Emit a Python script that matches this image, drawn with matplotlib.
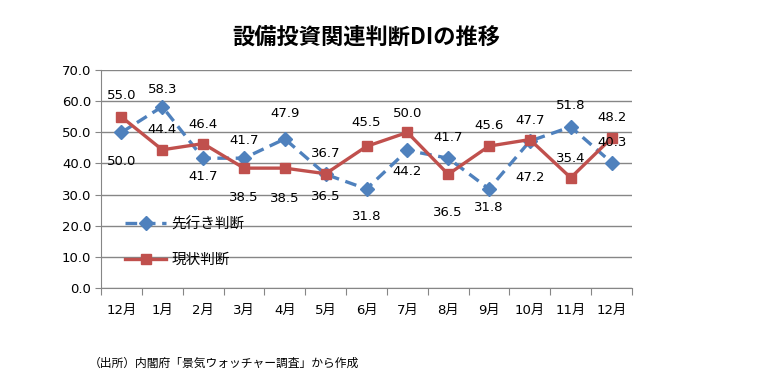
import matplotlib
matplotlib.use("Agg")
import matplotlib.pyplot as plt

plt.rcParams['font.family'] = ['DejaVu Sans', 'Noto Sans CJK JP']

months = ["12月", "1月", "2月", "3月", "4月", "5月", "6月", "7月", "8月", "9月", "10月", "11月", "12月"]
outlook = [50.0, 58.3, 41.7, 41.7, 47.9, 36.5, 31.8, 44.2, 41.7, 31.8, 47.2, 51.8, 40.3]
current = [55.0, 44.4, 46.4, 38.5, 38.5, 36.7, 45.5, 50.0, 36.5, 45.6, 47.7, 35.4, 48.2]
title = "設備投資関連判断DIの推移"
series_names = ["先行き判断", "現状判断"]
source = "（出所）内閣府「景気ウォッチャー調査」から作成"

# label vertical offsets in pixels (style)
off_outlook = [-29, 17, -18, 18, 25, -22, -28, -21, 21, -19, -36, 21, 20]
off_current = [21, 20, 19, -29, -30, 20, 24, 19, -38, 21, 19, 19, 21]

blue = "#4F81BD"
red = "#C0504D"

fig = plt.figure(figsize=(7.84, 3.91), dpi=100)
ax = fig.add_axes([101/784, 1-287.7/391, (632-101)/784, (287.7-70.3)/391])

x = list(range(len(months)))
l1, = ax.plot(x, outlook, color=blue, lw=2.4, ls=(0, (3.5, 2)), marker='D', ms=7.5,
              markerfacecolor=blue, markeredgecolor=blue, zorder=3, label=series_names[0])
l2, = ax.plot(x, current, color=red, lw=2.4, marker='s', ms=7.5,
              markerfacecolor=red, markeredgecolor=red, zorder=4, label=series_names[1])

for xi, v, o in zip(x, outlook, off_outlook):
    ax.annotate(f"{v:.1f}", (xi, v), xytext=(0, o), textcoords='offset pixels',
                ha='center', va='center', fontsize=9.5, zorder=6)
for xi, v, o in zip(x, current, off_current):
    ax.annotate(f"{v:.1f}", (xi, v), xytext=(0, o), textcoords='offset pixels',
                ha='center', va='center', fontsize=9.5, zorder=6)

ax.set_ylim(0, 70)
ax.set_yticks(range(0, 71, 10))
ax.set_yticklabels([f"{t:.1f}" for t in range(0, 71, 10)], fontsize=9.5)
ax.set_xlim(-0.5, len(months) - 0.5)
ax.set_xticks([i - 0.5 for i in range(len(months) + 1)])
ax.set_xticklabels([])
ax.set_xticks(x, minor=True)
ax.set_xticklabels(months, minor=True, fontsize=9.5)
ax.tick_params(axis='x', which='major', length=5, color='#868686', direction='out')
ax.tick_params(axis='x', which='minor', length=0, pad=12)
ax.tick_params(axis='y', length=4, color='#868686', pad=3)

ax.grid(axis='y', color='#868686', lw=1)
ax.set_axisbelow(True)
for s in ['top', 'right']:
    ax.spines[s].set_visible(False)
for s in ['left', 'bottom']:
    ax.spines[s].set_color('#868686')

leg = ax.legend(handles=[l1, l2], loc='upper left', bbox_to_anchor=(0.035, 0.355),
                frameon=False, fontsize=10.5, handlelength=2.8, handletextpad=0.35,
                labelspacing=1.4, borderaxespad=0)

fig.text(366.5/784, 1-37/391, title, ha='center', va='center', fontsize=16,
         fontweight='bold', family=['Noto Sans CJK JP', 'DejaVu Sans'])
fig.text(89/784, 1-363/391, source, ha='left', va='center', fontsize=8.5,
         family=['Noto Sans CJK JP', 'DejaVu Sans'])

fig.savefig("out.png", dpi=100)
